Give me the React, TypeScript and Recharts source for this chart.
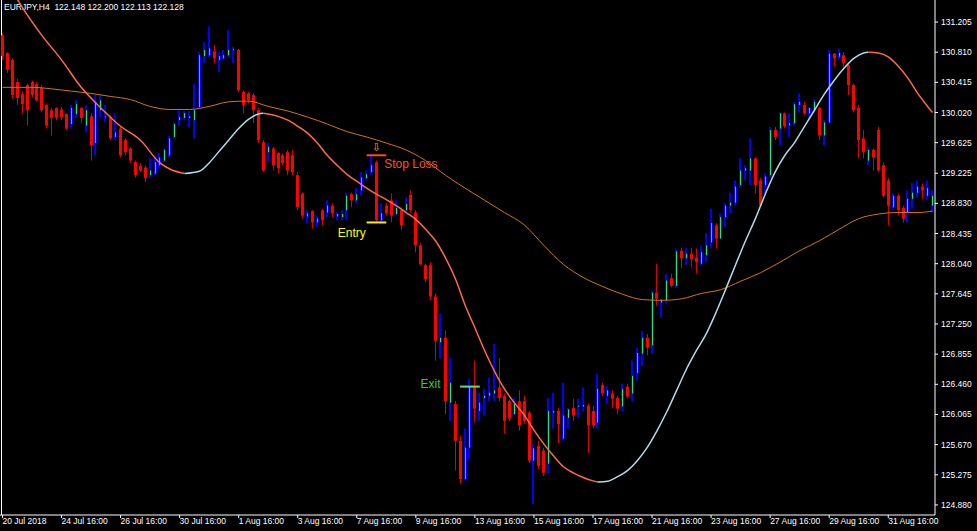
import React from 'react';
import { ComposedChart, Bar, Line, XAxis, YAxis, ReferenceLine, ReferenceDot } from 'recharts';

// H4 candles, [open, high, low, close]
const candles: number[][] = [
  [131.03, 131.06, 130.71, 130.76], [130.80, 130.81, 130.54, 130.58], [130.71, 130.73, 130.20, 130.25], [130.42, 130.46, 130.12, 130.21],
  [130.26, 130.30, 130.01, 130.13], [130.38, 130.40, 129.85, 130.05], [130.42, 130.44, 130.22, 130.25], [130.39, 130.42, 130.16, 130.18],
  [130.34, 130.38, 130.02, 130.05], [130.12, 130.14, 129.81, 129.85], [130.05, 130.08, 129.72, 129.95], [130.08, 130.09, 129.92, 129.95],
  [130.06, 130.09, 129.92, 129.96], [130.00, 130.01, 129.79, 129.81], [129.87, 130.12, 129.81, 130.08], [130.00, 130.18, 129.95, 130.13],
  [130.08, 130.09, 129.88, 129.95], [129.85, 130.12, 129.76, 130.05], [129.97, 130.01, 129.39, 129.59], [129.62, 130.25, 129.46, 130.16],
  [130.05, 130.25, 129.96, 130.18], [129.96, 130.12, 129.89, 129.97], [129.96, 129.98, 129.66, 129.68], [129.70, 130.01, 129.66, 129.76],
  [129.81, 129.83, 129.43, 129.46], [129.66, 129.68, 129.46, 129.50], [129.55, 129.57, 129.36, 129.39], [129.37, 129.39, 129.17, 129.20],
  [129.32, 129.36, 129.24, 129.26], [129.30, 129.33, 129.11, 129.16], [129.20, 129.42, 129.16, 129.26], [129.22, 129.46, 129.20, 129.37],
  [129.33, 129.49, 129.29, 129.43], [129.39, 129.55, 129.37, 129.53], [129.46, 129.71, 129.43, 129.68], [129.70, 129.89, 129.68, 129.87],
  [129.92, 130.05, 129.85, 129.96], [129.95, 130.04, 129.92, 130.01], [129.95, 130.04, 129.83, 129.97], [129.92, 130.40, 129.68, 130.05],
  [130.09, 130.81, 130.08, 130.77], [130.76, 130.94, 130.67, 130.84], [130.77, 131.15, 130.75, 130.86], [130.82, 130.90, 130.67, 130.73],
  [130.71, 130.81, 130.55, 130.76], [130.73, 130.84, 130.71, 130.77], [130.77, 131.10, 130.75, 130.84], [130.84, 130.88, 130.67, 130.85],
  [130.84, 130.85, 130.29, 130.31], [130.29, 130.31, 130.01, 130.12], [130.27, 130.29, 130.14, 130.18], [130.25, 130.27, 129.88, 130.05],
  [130.05, 130.08, 129.62, 129.66], [129.63, 129.66, 129.24, 129.26], [129.50, 129.62, 129.37, 129.57], [129.55, 129.57, 129.26, 129.33],
  [129.49, 129.50, 129.22, 129.29], [129.46, 129.49, 129.33, 129.36], [129.50, 129.53, 129.20, 129.26], [129.46, 129.53, 129.20, 129.24],
  [129.20, 129.24, 128.74, 128.78], [128.96, 128.97, 128.63, 128.67], [128.66, 128.74, 128.57, 128.70], [128.73, 128.74, 128.50, 128.58],
  [128.58, 128.67, 128.52, 128.63], [128.74, 128.76, 128.54, 128.61], [128.71, 128.87, 128.65, 128.80], [128.80, 128.83, 128.65, 128.70],
  [128.66, 128.71, 128.61, 128.69], [128.65, 128.74, 128.61, 128.69], [128.74, 128.97, 128.61, 128.93], [128.95, 128.97, 128.78, 128.87],
  [128.87, 129.03, 128.83, 128.95], [129.00, 129.24, 128.93, 129.17], [129.16, 129.26, 129.13, 129.21], [129.24, 129.46, 129.20, 129.33],
  [129.37, 129.39, 128.58, 128.61], [128.61, 128.83, 128.58, 128.70], [128.80, 128.83, 128.67, 128.70], [128.87, 128.96, 128.58, 128.67],
  [128.69, 128.87, 128.67, 128.77], [128.74, 128.78, 128.48, 128.54], [128.74, 128.91, 128.71, 128.82], [128.94, 129.00, 128.71, 128.74],
  [128.71, 128.74, 128.19, 128.28], [128.28, 128.31, 128.02, 128.03], [128.02, 128.04, 127.79, 127.84], [128.02, 128.06, 127.56, 127.61],
  [127.61, 127.65, 126.77, 127.03], [127.01, 127.39, 126.80, 127.07], [127.07, 127.16, 126.07, 126.24], [126.22, 126.81, 125.98, 126.48],
  [126.20, 126.24, 125.33, 125.72], [125.72, 125.79, 125.16, 125.22], [125.22, 125.88, 125.20, 125.63], [125.63, 126.53, 125.48, 126.43],
  [126.42, 126.77, 125.96, 126.14], [126.11, 126.35, 125.98, 126.22], [126.28, 126.40, 126.05, 126.31], [126.31, 126.55, 126.24, 126.35],
  [126.34, 126.99, 126.24, 126.38], [126.42, 126.80, 126.24, 126.28], [126.31, 126.34, 125.81, 125.98], [126.24, 126.26, 125.98, 126.01],
  [126.07, 126.28, 126.05, 126.22], [126.24, 126.38, 125.85, 125.92], [126.24, 126.31, 125.94, 125.98], [126.09, 126.11, 125.43, 125.46],
  [125.46, 125.68, 124.89, 125.62], [125.65, 125.72, 125.35, 125.39], [125.59, 125.63, 125.26, 125.30], [125.42, 126.28, 125.29, 126.11],
  [126.09, 126.35, 125.88, 126.11], [126.11, 126.15, 125.69, 125.94], [125.75, 126.48, 125.72, 126.05], [126.02, 126.15, 125.88, 126.13],
  [126.15, 126.27, 125.98, 126.05], [126.17, 126.27, 126.02, 126.18], [126.17, 126.42, 126.11, 126.19], [126.18, 126.21, 125.56, 125.92],
  [126.11, 126.18, 125.88, 125.92], [125.96, 126.60, 125.88, 126.40], [126.45, 126.48, 126.31, 126.34], [126.31, 126.44, 126.20, 126.38],
  [126.34, 126.38, 126.15, 126.27], [126.28, 126.31, 126.07, 126.14], [126.17, 126.47, 126.11, 126.40], [126.43, 126.47, 126.27, 126.30],
  [126.34, 126.77, 126.24, 126.57], [126.61, 126.94, 126.51, 126.87], [126.86, 127.16, 126.70, 127.07], [127.07, 127.12, 126.84, 126.94],
  [126.97, 127.69, 126.86, 127.66], [127.66, 128.04, 127.49, 127.58], [127.53, 127.58, 127.33, 127.57], [127.56, 127.91, 127.52, 127.82],
  [127.85, 127.91, 127.73, 127.75], [127.75, 128.24, 127.72, 128.20], [128.21, 128.25, 127.98, 128.11], [128.11, 128.25, 128.02, 128.17],
  [128.17, 128.25, 127.99, 128.10], [128.12, 128.24, 127.91, 128.06], [128.04, 128.28, 128.02, 128.19], [128.15, 128.44, 128.06, 128.28],
  [128.32, 128.76, 128.24, 128.57], [128.54, 128.57, 128.24, 128.37], [128.37, 128.70, 128.37, 128.65], [128.65, 128.83, 128.52, 128.80],
  [128.80, 128.97, 128.70, 128.84], [128.84, 129.13, 128.80, 129.05], [129.07, 129.42, 129.04, 129.26], [129.26, 129.33, 129.13, 129.29],
  [129.26, 129.68, 129.07, 129.42], [129.42, 129.43, 128.96, 129.07], [129.13, 129.16, 128.78, 128.80], [129.07, 129.22, 128.96, 129.18],
  [129.20, 129.83, 129.16, 129.79], [129.79, 129.83, 129.66, 129.70], [129.81, 130.02, 129.59, 130.01], [130.01, 130.02, 129.81, 129.84],
  [129.85, 130.01, 129.70, 129.88], [129.88, 130.16, 129.85, 130.13], [130.12, 130.27, 130.02, 130.16], [130.12, 130.16, 129.99, 130.01],
  [130.01, 130.09, 129.95, 130.08], [130.05, 130.20, 130.02, 130.16], [130.08, 130.09, 129.66, 129.72], [129.72, 129.92, 129.59, 129.89],
  [129.89, 130.84, 129.88, 130.79], [130.79, 130.80, 130.62, 130.73], [130.75, 130.86, 130.71, 130.80], [130.77, 130.81, 130.62, 130.67],
  [130.64, 130.67, 130.25, 130.38], [130.38, 130.40, 130.02, 130.05], [130.08, 130.12, 129.42, 129.66], [129.68, 129.79, 129.42, 129.50],
  [129.39, 129.57, 129.33, 129.53], [129.53, 129.55, 129.26, 129.43], [129.79, 129.83, 129.24, 129.26], [129.33, 129.37, 128.91, 128.93],
  [129.13, 129.16, 128.54, 128.80], [128.78, 128.96, 128.74, 128.93], [128.93, 128.96, 128.67, 128.74], [128.77, 128.80, 128.58, 128.63],
  [128.71, 129.00, 128.58, 128.89], [128.89, 129.10, 128.76, 128.97], [128.97, 129.13, 128.91, 129.05], [129.05, 129.09, 128.89, 129.00],
  [128.93, 129.13, 128.87, 129.03], [128.80, 129.00, 128.71, 128.93],
];

// fast moving average, [bar, value]
const fastMA: number[][] = [
  [0, 131.84], [4, 131.40], [8, 131.03], [12, 130.71], [16, 130.35], [20, 130.08], [24, 129.84], [28, 129.66],
  [32, 129.36], [34, 129.28], [37, 129.22], [40, 129.25], [42, 129.36], [44, 129.51], [46, 129.66], [48, 129.81],
  [50, 129.93], [52, 130.0], [53, 130.01], [56, 129.97], [58, 129.92], [60, 129.84], [62, 129.75], [64, 129.62],
  [66, 129.46], [68, 129.33], [70, 129.21], [72, 129.12], [74, 129.03], [76, 128.95], [78, 128.88], [80, 128.80],
  [82, 128.71], [84, 128.62], [86, 128.49], [88, 128.34], [90, 128.12], [92, 127.85], [94, 127.50], [96, 127.20],
  [98, 126.90], [100, 126.63], [102, 126.40], [104, 126.22], [106, 126.06], [108, 125.86], [110, 125.68], [112, 125.52],
  [114, 125.38], [116, 125.30], [118, 125.24], [120, 125.195], [121, 125.18], [123, 125.19], [125, 125.25], [127, 125.33],
  [129, 125.46], [131, 125.63], [133, 125.85], [135, 126.10], [137, 126.38], [139, 126.66], [141, 126.90], [143, 127.12],
  [145, 127.40], [147, 127.71], [149, 128.03], [151, 128.34], [153, 128.63], [155, 128.95], [157, 129.24], [159, 129.46],
  [161, 129.63], [163, 129.84], [165, 130.05], [167, 130.26], [169, 130.44], [171, 130.60], [173, 130.73], [175, 130.80],
  [176, 130.81], [178, 130.80], [180, 130.75], [182, 130.63], [184, 130.47], [186, 130.27], [188, 130.10], [189, 130.02],
];

// slow moving average, [bar, value]
const slowMA: number[][] = [
  [0, 130.35], [6, 130.35], [10, 130.33], [14, 130.30], [18, 130.27], [22, 130.23], [26, 130.19], [30, 130.10],
  [34, 130.06], [38, 130.06], [42, 130.10], [46, 130.16], [50, 130.17], [54, 130.10], [58, 130.04], [62, 129.96],
  [66, 129.87], [70, 129.77], [74, 129.70], [78, 129.62], [82, 129.53], [86, 129.39], [90, 129.20], [94, 129.03],
  [98, 128.87], [102, 128.71], [106, 128.55], [110, 128.28], [114, 128.03], [118, 127.86], [122, 127.74], [126, 127.64],
  [130, 127.57], [134, 127.56], [138, 127.58], [142, 127.65], [146, 127.70], [150, 127.81], [154, 127.92], [158, 128.06],
  [162, 128.21], [166, 128.34], [170, 128.49], [174, 128.63], [178, 128.69], [182, 128.71], [186, 128.71], [189, 128.73],
];

const dateLabels = [
  '20 Jul 2018', '24 Jul 16:00', '26 Jul 16:00', '30 Jul 16:00', '1 Aug 16:00', '3 Aug 16:00', '7 Aug 16:00', '9 Aug 16:00',
  '13 Aug 16:00', '15 Aug 16:00', '17 Aug 16:00', '21 Aug 16:00', '23 Aug 16:00', '27 Aug 16:00', '29 Aug 16:00', '31 Aug 16:00',
];
const dateLabelBars = [0, 12, 24, 36, 48, 60, 72, 84, 96, 108, 120, 132, 144, 156, 168, 180];

const priceTicks = [
  131.205, 130.81, 130.415, 130.02, 129.625, 129.225, 128.83, 128.435, 128.04, 127.645, 127.25, 126.855, 126.46,
  126.065, 125.67, 125.275, 124.88,
];

const stopLoss = 129.46;
const entry = 128.58;
const exit = 126.43;

const rows: any[] = candles.map(([o, h, l, c], i) => ({ i, o, h, l, c, range: [l, h] }));
slowMA.forEach(([i, v]) => (rows[i].slow = v));

// split the fast MA into rising / falling legs, drawn in different colours
const legs: { up: boolean; pts: number[][] }[] = [];
for (let k = 1; k < fastMA.length; k++) {
  const up = fastMA[k][1] > fastMA[k - 1][1];
  const last = legs[legs.length - 1];
  if (!last || last.up !== up) legs.push({ up, pts: [fastMA[k - 1], fastMA[k]] });
  else last.pts.push(fastMA[k]);
}
legs.forEach((leg, n) => leg.pts.forEach(([i, v]) => (rows[i]['fast' + n] = v)));

const font = '"Liberation Sans", Arial, sans-serif';

const Candle = (props: any) => {
  const { x, y, width, height, payload } = props;
  const { o, h, l, c } = payload;
  const top = Math.min(y, y + height);
  const span = Math.abs(height);
  const k = h > l ? span / (h - l) : 0;
  const py = (p: number) => top + (h - p) * k;
  const cx = Math.floor(x + width / 2) + 0.5;
  const bodyTop = py(Math.max(o, c));
  const bh = Math.max(1, py(Math.min(o, c)) - bodyTop);
  if (c >= o) {
    return (
      <g>
        <rect x={cx - 1.5} y={top} width={2} height={Math.max(1, span)} fill="#0000ff" />
        <rect x={cx - 1.5} y={bodyTop} width={3} height={bh} fill="#0000ff" />
        <rect x={cx - 0.5} y={bodyTop} width={1} height={bh} fill="#22e090" />
      </g>
    );
  }
  return (
    <g>
      <rect x={cx - 0.5} y={top} width={1} height={Math.max(1, span)} fill="#e00000" />
      <rect x={cx - 1.5} y={bodyTop} width={3} height={bh} fill="#ff0000" />
    </g>
  );
};

export default function App() {
  return (
    <div style={{ position: 'absolute', left: 0, top: 0, width: 977, height: 531, background: '#000', overflow: 'hidden' }}>
      <div
        style={{
          position: 'absolute', left: 4, top: 2, color: '#fff', fontFamily: font, fontSize: 8.5,
          whiteSpace: 'pre', lineHeight: '10px',
        }}
      >
        {'EURJPY,H4  122.148 122.200 122.113 122.128'}
      </div>
      <div style={{ position: 'absolute', left: 1, top: 0, width: 1, height: 515, background: '#fff' }} />
      <div style={{ position: 'absolute', left: 0, top: 0 }}>
        <ComposedChart width={977} height={531} data={rows} margin={{ top: 0, right: 0, bottom: 0, left: 0 }}>
          <XAxis
            dataKey="i"
            height={16}
            ticks={dateLabelBars}
            interval={0}
            tickFormatter={(v: number) => dateLabels[dateLabelBars.indexOf(v)]}
            tick={{ fill: '#fff', fontSize: 8.5, fontFamily: font, textAnchor: 'start' }}
            tickSize={3}
            tickMargin={0}
            axisLine={{ stroke: '#fff' }}
            tickLine={{ stroke: '#fff' }}
          />
          <YAxis
            orientation="right"
            type="number"
            width={42}
            domain={[124.748, 131.494]}
            allowDataOverflow
            ticks={priceTicks}
            interval={0}
            tickFormatter={(v: number) => v.toFixed(3)}
            tick={{ fill: '#fff', fontSize: 8.5, fontFamily: font }}
            tickSize={3}
            tickMargin={3}
            axisLine={{ stroke: '#fff' }}
            tickLine={{ stroke: '#fff' }}
          />
          <Bar dataKey="range" shape={<Candle />} activeBar={false} isAnimationActive={false} />
          <Line dataKey="slow" stroke="#d2760a" strokeWidth={1} dot={false} activeDot={false} connectNulls
            type="monotone" isAnimationActive={false} />
          {legs.map((leg, n) => (
            <Line
              key={n}
              dataKey={'fast' + n}
              stroke={leg.up ? '#b0dce8' : '#ff6a4a'}
              strokeWidth={1.5}
              dot={false}
              activeDot={false}
              connectNulls
              type="monotone"
              isAnimationActive={false}
            />
          ))}
          <ReferenceLine segment={[{ x: 74, y: stopLoss }, { x: 78, y: stopLoss }]} stroke="#ff4a1a" strokeWidth={2} />
          <ReferenceLine segment={[{ x: 74, y: entry }, { x: 78, y: entry }]} stroke="#ffee00" strokeWidth={2} />
          <ReferenceLine segment={[{ x: 93, y: exit }, { x: 97, y: exit }]} stroke="#66e066" strokeWidth={2} />
          <ReferenceDot x={83} y={129.355} r={0} stroke="none" fill="none"
            label={{ value: 'Stop Loss', position: 'center', fill: '#ff5020', fontSize: 12, fontFamily: font }} />
          <ReferenceDot x={71} y={128.45} r={0} stroke="none" fill="none"
            label={{ value: 'Entry', position: 'center', fill: '#ffff00', fontSize: 12, fontFamily: font }} />
          <ReferenceDot x={87} y={126.47} r={0} stroke="none" fill="none"
            label={{ value: 'Exit', position: 'center', fill: '#33cc33', fontSize: 12, fontFamily: font }} />
          <ReferenceDot x={76} y={129.57} r={0} stroke="none" fill="none"
            label={{ value: '⇩', position: 'center', fill: '#f0a030', fontSize: 11, fontFamily: '"DejaVu Sans"' }} />
        </ComposedChart>
      </div>
    </div>
  );
}
